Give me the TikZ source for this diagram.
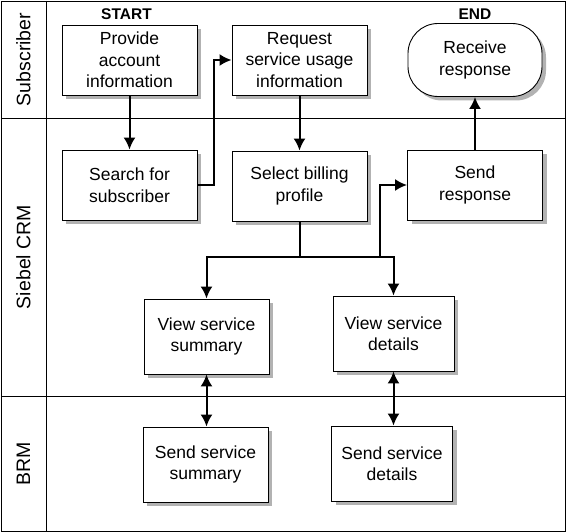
\documentclass[tikz,border=0pt]{standalone}
\usepackage{fontspec}
\setmainfont{Liberation Sans}
\usetikzlibrary{arrows.meta,positioning,shadows,calc}

\begin{document}
\begin{tikzpicture}[x=1pt,y=-1pt,node distance=170pt,
  process/.style={draw,fill=white,line width=.9pt,align=center,inner sep=0,minimum width=135pt,minimum height=70pt,font=\fontsize{17.5}{21.5}\selectfont,drop shadow={shadow xshift=4pt,shadow yshift=-4pt,fill=black!30,opacity=1}},
  terminal/.style={process,rounded corners=30pt,minimum width=134pt,minimum height=73pt},
  narrowbox/.style={process,minimum width=125pt,minimum height=75pt},
  lanelabel/.style={rotate=90,font=\fontsize{19.5}{23}\selectfont},
  marker/.style={font=\bfseries\fontsize{15.5}{18}\selectfont},
  flow/.style={-{Latex[length=12pt,width=12pt]},line width=2pt},
  twoway/.style={{Latex[length=12pt,width=12pt]}-{Latex[length=12pt,width=12pt]},line width=2pt}]

\useasboundingbox (0,0) rectangle (566,532);

% lanes
\draw[line width=.9pt] (1,1) rectangle (565,531);
\draw[line width=.9pt] (46,1) -- (46,531);
\draw[line width=.9pt] (1,118) -- (565,118);
\draw[line width=.9pt] (1,396) -- (565,396);
\node[lanelabel] (lane1) at (23.5,59.5) {Subscriber};
\node[lanelabel] (lane2) at (23.5,257) {Siebel CRM};
\node[lanelabel] (lane3) at (23.5,463.5) {BRM};

% Nodes
\node[process] (provide) at (129.5,60) {Provide\\account\\information};
\node[process,right of = provide] (request) {Request\\service usage\\information};
\node[terminal,right of = request,xshift=5.5pt] (receive) {Receive\\response};
\node[process,below of = provide,node distance=125pt] (search) {Search for\\subscriber};
\node[process,below of = request,node distance=125pt,yshift=-1pt] (select) {Select billing\\profile};
\node[process,below of = receive,node distance=125pt] (sendresp) {Send\\response};
\node[narrowbox,below of = search,node distance=125pt,xshift=77pt,yshift=-26.5pt] (viewsum) {View service\\summary};
\node[narrowbox,right of = viewsum,node distance=187pt,yshift=3pt,minimum width=121pt] (viewdet) {View service\\details};
\node[narrowbox,below of = viewsum,node distance=128pt,xshift=-1pt] (sendsum) {Send service\\summary};
\node[narrowbox,below of = viewdet,node distance=130pt,xshift=-1.5pt,minimum width=121pt] (senddet) {Send service\\details};

\node[marker,above of = provide,node distance=46pt,xshift=-3pt] (start) {START};
\node[marker,above of = receive,node distance=45.5pt] (finish) {END};

%arcs
\path (provide) edge[flow] (search);
\path (request) edge[flow] (select);
\path (sendresp) edge[flow] (receive);
\draw[flow] (search.east) -- ++(17pt,0) |- (request.west);

\coordinate (fork) at ([yshift=-36pt]select.south);
\coordinate (tap) at ([xshift=80pt]fork);
\draw[line width=2pt] (select.south) -- (fork);
\draw[flow] (fork) -| (viewsum.north);
\draw[flow] (fork) -| (viewdet.north);
\draw[flow] (tap) |- (sendresp.west);

\draw[twoway] (viewsum.south) -- (viewsum.south |- sendsum.north);
\draw[twoway] (viewdet.south) -- (viewdet.south |- senddet.north);

\end{tikzpicture}
\end{document}
